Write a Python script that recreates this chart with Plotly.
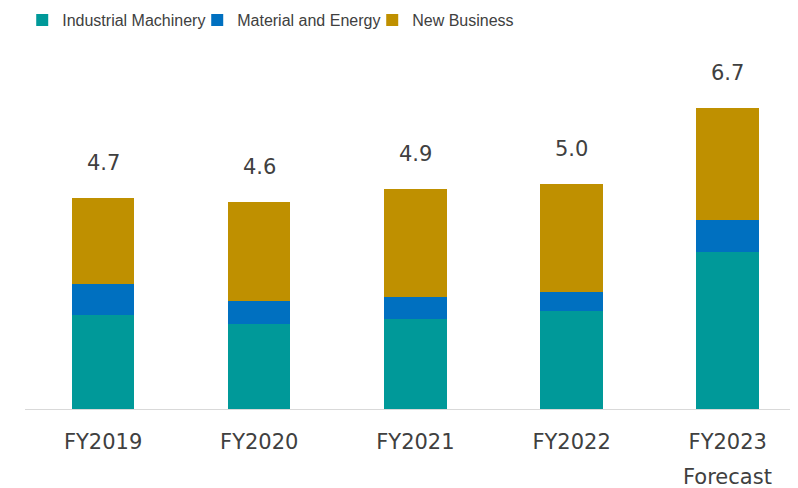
import plotly.graph_objects as go

years = ['FY2019', 'FY2020', 'FY2021', 'FY2022', 'FY2023']
industrial = [2.08, 1.90, 2.00, 2.18, 3.50]
material = [0.70, 0.49, 0.50, 0.42, 0.70]
new_business = [1.92, 2.21, 2.40, 2.40, 2.50]
totals = [4.7, 4.6, 4.9, 5.0, 6.7]
total_labels = ['4.7', '4.6', '4.9', '5.0', '6.7']

text_font = 'DejaVu Sans, Verdana, sans-serif'
text_color = '#404040'

fig = go.Figure()
fig.add_trace(go.Bar(x=years, y=industrial, name='Industrial Machinery',
                     marker=dict(color='#009999', line=dict(width=0))))
fig.add_trace(go.Bar(x=years, y=material, name='Material and Energy',
                     marker=dict(color='#0070C0', line=dict(width=0))))
fig.add_trace(go.Bar(x=years, y=new_business, name='New Business',
                     marker=dict(color='#BF9000', line=dict(width=0))))

# totals above each stack
for yr, tot, lab in zip(years, totals, total_labels):
    fig.add_annotation(x=yr, y=tot, text=lab, showarrow=False,
                       yanchor='middle', yshift=35,
                       font=dict(family=text_font, size=21, color=text_color))

# second line under the last category
fig.add_annotation(x=years[-1], y=0, yref='paper', text='Forecast', showarrow=False,
                   yanchor='middle', yshift=-68,
                   font=dict(family=text_font, size=21, color=text_color))

# the page body adds an 8px margin, so the figure is sized to the visible area
fig.update_layout(
    width=790, height=480,
    barmode='stack', bargap=0.6,
    plot_bgcolor='white', paper_bgcolor='white',
    margin=dict(l=17, r=0, t=42, b=78.5),
    showlegend=True,
    legend=dict(orientation='h', xref='container', x=0.018, xanchor='left',
                yref='container', y=0.975, yanchor='middle',
                font=dict(family='Liberation Sans, Arial, sans-serif',
                          size=16, color=text_color),
                itemwidth=30, entrywidth=130, entrywidthmode='pixels',
                traceorder='normal'),
)
fig.update_xaxes(range=[-0.5, 4.45], showline=True, linecolor='#D9D9D9', linewidth=1,
                 showgrid=False, ticks='', ticklabelstandoff=14,
                 tickfont=dict(family=text_font, size=21, color=text_color))
fig.update_yaxes(range=[0, 7.98], visible=False, showgrid=False)

fig.write_html("out.html")
